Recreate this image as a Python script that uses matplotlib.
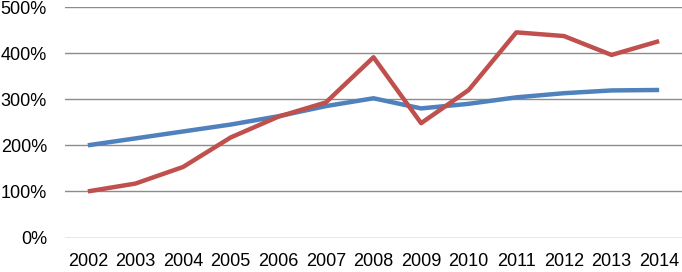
import matplotlib
matplotlib.use("Agg")
import matplotlib.pyplot as plt
from matplotlib.ticker import FuncFormatter

years = ['2002', '2003', '2004', '2005', '2006', '2007', '2008',
         '2009', '2010', '2011', '2012', '2013', '2014']
blue_vals = [200, 215, 230, 245, 263, 285, 302, 280, 290, 304, 313, 319, 320]
red_vals = [100, 117, 153, 217, 262, 293, 391, 248, 320, 445, 437, 396, 426]
y_ticks = [0, 100, 200, 300, 400, 500]

plt.rcParams['font.family'] = ['Liberation Sans', 'DejaVu Sans']

fig = plt.figure(figsize=(6.82, 2.72), dpi=100)
ax = fig.add_axes([65 / 682, 1 - 237.5 / 272, 617 / 682, 230.5 / 272])

x = list(range(len(years)))
ax.plot(x, blue_vals, color='#4F81BD', lw=3.2, solid_capstyle='butt', zorder=3)
ax.plot(x, red_vals, color='#C0504D', lw=3.2, solid_capstyle='butt', zorder=4)

ax.set_xlim(-0.48, len(years) - 0.52)
ax.set_ylim(0, 500)
ax.set_yticks(y_ticks)
ax.yaxis.set_major_formatter(FuncFormatter(lambda v, p: f'{int(v)}%'))
ax.set_xticks(x)
ax.set_xticklabels(years)
ax.grid(axis='y', color='#8c8c8c', lw=1.0)
ax.set_axisbelow(True)
for s in ax.spines.values():
    s.set_visible(False)
ax.tick_params(axis='both', length=0, labelsize=13, colors='black')
ax.tick_params(axis='y', pad=13)
ax.tick_params(axis='x', pad=11)

fig.savefig('out.png', dpi=100)
